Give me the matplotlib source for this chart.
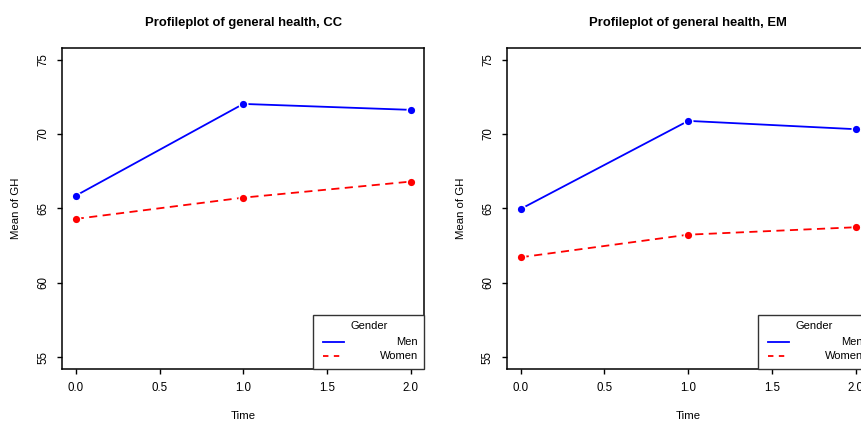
import matplotlib
matplotlib.use("Agg")
import matplotlib.pyplot as plt
from matplotlib.patches import Rectangle

plt.rcParams['font.family'] = ['Liberation Sans', 'DejaVu Sans']

# profile means of general health (GH) by time and gender
time = [0, 1, 2]
cc_men = [65.85, 72.02, 71.62]
cc_women = [64.29, 65.72, 66.80]
em_men = [64.96, 70.88, 70.32]
em_women = [61.71, 63.23, 63.73]

panels = [
    ("Profileplot of general health, CC", cc_men, cc_women),
    ("Profileplot of general health, EM", em_men, em_women),
]
series_labels = ["Men", "Women"]
x_ticks = [0.0, 0.5, 1.0, 1.5, 2.0]
y_ticks = [55, 60, 65, 70, 75]

fig = plt.figure(figsize=(8.61, 4.22), dpi=100)
ax_lefts = [0.0724, 0.5892]

for left, (title, men, women) in zip(ax_lefts, panels):
    ax = fig.add_axes([left, 0.1256, 0.4204, 0.7614])
    ax.plot(time, men, color="#0000ff", lw=1.3, marker="o", ms=6.2,
            mfc="#0000ff", mec="white", mew=1.0)
    ax.plot(time, women, color="#ff0000", lw=1.3, dashes=(4.5, 3),
            marker="o", ms=6.2, mfc="#ff0000", mec="white", mew=1.0)
    ax.set_xlim(-0.08, 2.08)
    ax.set_ylim(54.2, 75.8)
    ax.set_xticks(x_ticks)
    ax.set_xticklabels([f"{t:.1f}" for t in x_ticks])
    ax.set_yticks(y_ticks)
    ax.set_yticklabels([str(t) for t in y_ticks], rotation=90, va="center")
    ax.tick_params(length=3.6, width=1.0, labelsize=8.3, pad=6)
    for s in ax.spines.values():
        s.set_linewidth(1.1)
    ax.set_title(title, fontsize=9.4, fontweight="bold", pad=15.5)
    ax.set_xlabel("Time", fontsize=8.2)
    ax.set_ylabel("Mean of GH", fontsize=8.2)
    ax.xaxis.set_label_coords(0.5, -0.132)
    ax.yaxis.set_label_coords(-0.115, 0.5)

    # R-style legend box in bottom right corner
    ax.add_patch(Rectangle((0.693, 0.0), 0.307, 0.168, transform=ax.transAxes,
                           facecolor="white", edgecolor="#333333", lw=1.0,
                           zorder=5, clip_on=False))
    ax.text(0.847, 0.135, "Gender", transform=ax.transAxes, fontsize=8,
            ha="center", va="center", zorder=6)
    for y, lab, col, dash in [(0.085, series_labels[0], "#0000ff", None),
                              (0.041, series_labels[1], "#ff0000", (3, 3))]:
        ln, = ax.plot([0.72, 0.778], [y, y], transform=ax.transAxes,
                      color=col, lw=1.3, zorder=6, clip_on=False)
        if dash:
            ln.set_dashes(dash)
        ax.text(0.982, y, lab, transform=ax.transAxes, fontsize=8,
                ha="right", va="center", zorder=6)

fig.savefig("out.png", dpi=100)
